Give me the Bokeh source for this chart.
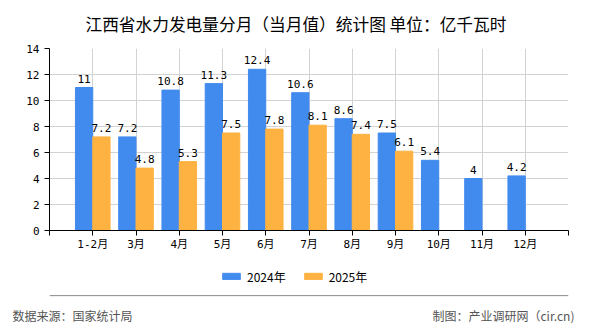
from bokeh.plotting import figure
from bokeh.models import (ColumnDataSource, FixedTicker, Legend, LegendItem, Title,
                          Span, Range1d)
from bokeh.layouts import column
from bokeh.transform import dodge
from bokeh.embed import file_html
from bokeh.resources import INLINE

months = ["1-2月", "3月", "4月", "5月", "6月", "7月", "8月", "9月", "10月", "11月", "12月"]
v2024 = [11, 7.2, 10.8, 11.3, 12.4, 10.6, 8.6, 7.5, 5.4, 4, 4.2]
v2025 = [7.2, 4.8, 5.3, 7.5, 7.8, 8.1, 7.4, 6.1]
series_names = ["2024年", "2025年"]
y_ticks = [0, 2, 4, 6, 8, 10, 12, 14]
title_text = "江西省水力发电量分月（当月值）统计图 单位：亿千瓦时"
source_text = "数据来源：国家统计局"
maker_text = "制图：产业调研网（cir.cn)"

BLUE = "#428BEE"
ORANGE = "#FDB241"
NUM_FONT = "'DejaVu Sans Mono', 'Noto Sans CJK SC'"
CJK_FONT = "'Noto Sans CJK SC'"

pos = list(range(1, len(months) + 1))
src24 = ColumnDataSource(dict(x=pos, v=v2024, t=[f"{v:g}" for v in v2024]))
src25 = ColumnDataSource(dict(x=pos[:len(v2025)], v=v2025, t=[f"{v:g}" for v in v2025]))

# ---------------- main chart ----------------
p = figure(width=590, height=256, output_backend="svg", toolbar_location=None,
           x_range=Range1d(0, len(months) + 1), y_range=Range1d(0, 14),
           min_border_left=49, min_border_right=22, min_border_top=46, min_border_bottom=26)
p.outline_line_color = None

p.title.text = title_text
p.title.align = "left"
p.title.offset = 36
p.title.vertical_align = "top"
p.title.standoff = 22
p.title.text_font_size = "16.7px"
p.title.text_font = CJK_FONT
p.title.text_font_style = "normal"
p.title.text_color = "black"

p.vbar(x=dodge("x", -0.2), top="v", width=0.4, source=src24, color=BLUE)
p.vbar(x=dodge("x", 0.2), top="v", width=0.4, source=src25, color=ORANGE)

for src, off in ((src24, -0.2), (src25, 0.2)):
    p.text(x=dodge("x", off), y="v", text="t", source=src, text_align="center",
           text_baseline="bottom", y_offset=-5, text_font_size="11px",
           text_font={"value": "DejaVu Sans Mono"}, text_color="black")

p.xaxis.ticker = FixedTicker(ticks=list(range(0, len(months) + 2)))
overrides = {0: "", len(months) + 1: ""}
for i, m in enumerate(months):
    overrides[i + 1] = m
p.xaxis.major_label_overrides = overrides
p.yaxis.ticker = FixedTicker(ticks=y_ticks)
for ax in (p.xaxis[0], p.yaxis[0]):
    ax.axis_line_color = "black"
    ax.major_tick_line_color = "black"
    ax.major_tick_in = 0
    ax.major_tick_out = 5
    ax.minor_tick_line_color = None
    ax.major_label_text_font_size = "11px"
    ax.major_label_text_color = "black"
    ax.major_label_text_font = NUM_FONT
p.xaxis.major_label_standoff = 2
p.yaxis.major_label_standoff = 5
p.xgrid.ticker = FixedTicker(ticks=list(range(1, len(months) + 2)))
p.ygrid.ticker = FixedTicker(ticks=y_ticks[1:])
p.xgrid.grid_line_color = "#d3d3d3"
p.ygrid.grid_line_color = "#d3d3d3"

# ---------------- legend + footer strip ----------------
f = figure(width=590, height=74, output_backend="svg", toolbar_location=None,
           x_range=Range1d(0, 1), y_range=Range1d(0, 44),
           x_axis_type=None, y_axis_type=None,
           min_border_left=49, min_border_right=22, min_border_top=0, min_border_bottom=30)
f.outline_line_color = None
f.xgrid.visible = False
f.ygrid.visible = False

# legend keys (zero-size bars, only used to draw the coloured swatches)
key_src = ColumnDataSource(dict(x=[0.5], top=[0]))
k1 = f.vbar(x="x", top="top", width=0, source=key_src, color=BLUE)
k2 = f.vbar(x="x", top="top", width=0, source=key_src, color=ORANGE)
legend = Legend(items=[LegendItem(label=series_names[0], renderers=[k1]),
                       LegendItem(label=series_names[1], renderers=[k2])],
                location=(171, 12.5), orientation="horizontal",
                glyph_width=22, glyph_height=8, label_standoff=5, spacing=16,
                label_height=17, padding=0, margin=0,
                border_line_alpha=0, background_fill_alpha=0,
                label_text_font=CJK_FONT, label_text_font_size="12px",
                label_text_color="black")
f.add_layout(legend, "center")

f.add_layout(Span(location=2, dimension="width", line_color="#8a8a8a", line_width=1))

foot = Title(text=source_text + "\u3000" * 24 + "\u2002\u2002" + maker_text, align="left",
             offset=-37, standoff=14, text_font_size="12px", text_font=CJK_FONT,
             text_font_style="normal", text_color="#555555")
f.add_layout(foot, "below")

layout = column(p, f, spacing=0)
open("out.html", "w").write(file_html(layout, INLINE))
